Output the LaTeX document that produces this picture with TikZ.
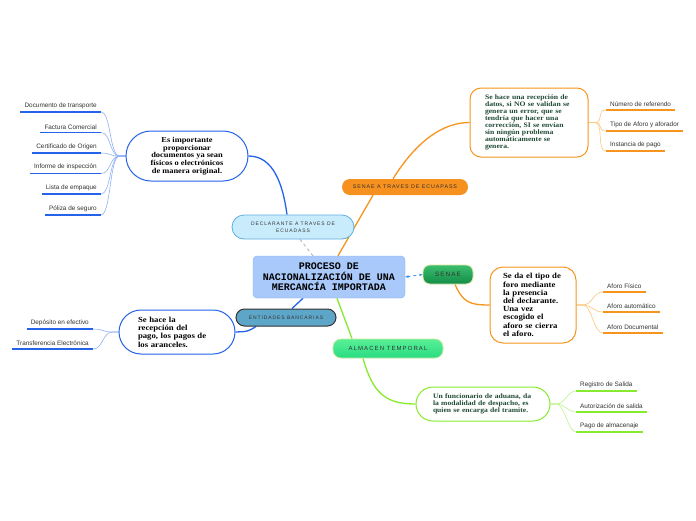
\documentclass[tikz,border=0pt]{standalone}
\usepackage{fontspec}
\setmainfont[FakeStretch=1.12]{Liberation Serif}
\newfontfamily\leaffont{Liberation Sans}
\newfontfamily\tagfont[LetterSpace=18]{Liberation Sans}
\newfontfamily\centralfont{Liberation Mono}
\usetikzlibrary{backgrounds,arrows.meta}
\definecolor{mblue}{HTML}{2563EB}
\definecolor{lblue}{HTML}{8FB2F6}
\definecolor{morange}{HTML}{F7941D}
\definecolor{lorange}{HTML}{F9C77E}
\definecolor{mlime}{HTML}{86EA2E}
\definecolor{llime}{HTML}{BDF48C}
\definecolor{dgreen}{HTML}{1F4A35}
\definecolor{tgray}{HTML}{333333}
\definecolor{cfill}{HTML}{A9C9FB}
\definecolor{cdraw}{HTML}{86B0F2}
\definecolor{dfill}{HTML}{C9ECFD}
\definecolor{ddraw}{HTML}{5EAEE0}
\definecolor{efill}{HTML}{5EA6C8}
\definecolor{ofill}{HTML}{F6901E}
\definecolor{dashgray}{HTML}{9AB4C8}
\definecolor{arrowblue}{HTML}{3A8EE8}
\tikzset{
  central/.style={draw=cdraw, fill=cfill, rounded corners=4pt, minimum width=152pt, minimum height=42pt,
    align=center, font=\centralfont\bfseries\fontsize{10}{10.5}\selectfont, text=black, inner sep=0pt},
  tagnode/.style={rounded corners=#1, inner sep=0pt, align=center, text=tgray},
  bubble/.style={draw=#1, fill=white, line width=1pt, inner sep=0pt},
  leafL/.style={font=\leaffont\fontsize{6.4}{7}\selectfont, text=tgray, inner xsep=4pt, inner ysep=3pt, anchor=south east},
  leafR/.style={font=\leaffont\fontsize{6.4}{7}\selectfont, text=tgray, inner xsep=4pt, inner ysep=3pt, anchor=south west},
  uline/.style={draw=#1, line width=1.4pt},
  twig/.style={draw=#1, line width=0.6pt},
  branch/.style={draw=#1, line width=1.3pt},
}
\begin{document}
\begin{tikzpicture}[x=1pt,y=-1pt]
\useasboundingbox (0,0) rectangle (696,520);

% central
\node[central] (c) at (329,277) {PROCESO DE\\NACIONALIZACIÓN DE UNA\\MERCANCÍA IMPORTADA};

% tag nodes
\node[tagnode=12pt, draw=ddraw, fill=dfill, line width=0.8pt, minimum width=122pt, minimum height=24pt,
  font=\tagfont\fontsize{5}{7}\selectfont] (decl) at (293,227) {DECLARANTE A TRAVES DE\\ECUADASS};
\node[tagnode=8.5pt, draw=tgray, fill=efill, line width=1pt, minimum width=100pt, minimum height=17pt,
  font=\tagfont\fontsize{5}{6}\selectfont] (ent) at (286,317.5) {ENTIDADES BANCARIAS};
\node[tagnode=8pt, fill=ofill, minimum width=126pt, minimum height=16pt,
  font=\tagfont\fontsize{5.3}{6}\selectfont] (ecu) at (405,187) {SENAE A TRAVES DE ECUAPASS};
\node[tagnode=7pt, draw={rgb,255:red,216;green,230;blue,160}, top color={rgb,255:red,60;green,190;blue,110},
  bottom color={rgb,255:red,18;green,140;blue,72}, line width=0.8pt, minimum width=50pt, minimum height=19pt,
  font=\tagfont\fontsize{6.3}{7}\selectfont] (senae) at (448,274.5) {SENAE};
\node[tagnode=8pt, draw={rgb,255:red,200;green,232;blue,160}, top color={rgb,255:red,90;green,240;blue,150},
  bottom color={rgb,255:red,40;green,220;blue,130}, line width=0.8pt, minimum width=110pt, minimum height=19pt,
  font=\tagfont\fontsize{6}{7}\selectfont] (alm) at (388,348.5) {ALMACEN TEMPORAL};

% bubbles
\node[bubble=mblue, rounded corners=25pt, minimum width=122pt, minimum height=50pt, align=center,
  font=\bfseries\fontsize{7.5}{7.7}\selectfont] (es) at (187,156)
  {Es importante\\proporcionar\\documentos ya sean\\físicos o electrónicos\\de manera original.};
\node[bubble=mblue, rounded corners=22pt, minimum width=116pt, minimum height=44pt, align=left, text width=78pt,
  font=\bfseries\fontsize{7.8}{8.3}\selectfont] (pago) at (177,332)
  {Se hace la\\recepción del\\pago, los pagos de\\los aranceles.};
\node[bubble=morange, rounded corners=11pt, minimum width=118pt, minimum height=69pt, align=left, text width=88pt, text=dgreen,
  font=\bfseries\fontsize{6.85}{7.1}\selectfont] (datos) at (529,122.5)
  {Se hace una recepción de\\datos, si NO se validan se\\genera un error, que se\\tendría que hacer una\\corrección, SI se envían\\sin ningún problema\\automáticamente se\\genera.};
\node[bubble=morange, rounded corners=13pt, minimum width=86pt, minimum height=76pt, align=left, text width=60pt,
  font=\bfseries\fontsize{7.8}{8.2}\selectfont] (foro) at (533,305)
  {Se da el tipo de\\foro mediante\\la presencia\\del declarante.\\Una vez\\escogido el\\aforo se cierra\\el aforo.};
\node[bubble=mlime, rounded corners=17pt, minimum width=134pt, minimum height=34pt, align=left, text width=100pt, text=dgreen,
  font=\bfseries\fontsize{6.8}{7.2}\selectfont] (func) at (483,404)
  {Un funcionario de aduana, da\\la modalidad de despacho, es\\quien se encarga del tramite.};

% leaves left (blue)
\node[leafL] (l1) at (101,112) {Documento de transporte};
\node[leafL] (l2) at (101,132.5) {Factura Comercial};
\node[leafL] (l3) at (101,153) {Certificado de Origen};
\node[leafL] (l4) at (101,173.5) {Informe de inspección};
\node[leafL] (l5) at (101,194) {Lista de empaque};
\node[leafL] (l6) at (101,215) {Póliza de seguro};
\node[leafL] (p1) at (93,329) {Depósito en efectivo};
\node[leafL] (p2) at (93,349) {Transferencia Electrónica};
% leaves right (orange)
\node[leafR] (d1) at (606,110) {Número de referendo};
\node[leafR] (d2) at (606,131) {Tipo de Aforo y aforador};
\node[leafR] (d3) at (606,151) {Instancia de pago};
\node[leafR] (f1) at (603,292) {Aforo Físico};
\node[leafR] (f2) at (603,312) {Aforo automático};
\node[leafR] (f3) at (603,333) {Aforo Documental};
% leaves right (lime)
\node[leafR] (u1) at (576,391) {Registro de Salida};
\node[leafR] (u2) at (576,412) {Autorización de salida};
\node[leafR] (u3) at (576,432) {Pago de almacenaje};

\begin{pgfonlayer}{background}
  \fill[white] (0,0) rectangle (696,520);
  % underlines
  \foreach \n in {l1,l2,l3,l4,l5,l6,p1,p2}{\draw[uline=mblue] (\n.south west) -- (\n.south east);}
  \foreach \n in {d1,d2,d3,f1,f2,f3}{\draw[uline=morange] (\n.south west) -- (\n.south east);}
  \foreach \n in {u1,u2,u3}{\draw[uline=mlime] (\n.south west) -- (\n.south east);}
  % twigs
  \foreach \n in {l1,l2,l3,l4,l5,l6}{\draw[twig=lblue] (es.west) -- ++(-6,0) .. controls +(-10,0) and +(10,0) .. (\n.south east);}
  \foreach \n in {p1,p2}{\draw[twig=lblue] (pago.west) -- ++(-6,0) .. controls +(-10,0) and +(10,0) .. (\n.south east);}
  \foreach \n in {d1,d2,d3}{\draw[twig=lorange] (datos.east) -- ++(6,0) .. controls +(10,0) and +(-10,0) .. (\n.south west);}
  \foreach \n in {f1,f2,f3}{\draw[twig=lorange] (foro.east) -- ++(6,0) .. controls +(10,0) and +(-10,0) .. (\n.south west);}
  \foreach \n in {u1,u2,u3}{\draw[twig=llime] (func.east) -- ++(6,0) .. controls +(8,0) and +(-8,0) .. (\n.south west);}
  % branches
  \draw[branch=mblue] (es.east) .. controls +(25,0) and +(-4,-30) .. ([xshift=-6pt]decl.north);
  \draw[dashgray, dashed, line width=0.8pt] ([xshift=-16pt]c.north) -- ([xshift=7pt]decl.south);
  \draw[branch=mblue] ([xshift=-26pt]c.south) -- ([xshift=6pt]ent.north);
  \draw[branch=mblue] ([xshift=-30pt]ent.south) .. controls +(-8,5) .. (pago.east);
  \draw[branch=morange] ([xshift=9pt]c.north) -- ([xshift=-32pt]ecu.south);
  \draw[branch=morange] ([xshift=-12pt]ecu.north) .. controls +(25,-40) and +(-25,0) .. (datos.west);
  \draw[branch=morange] ([xshift=7pt]senae.south) .. controls +(8,18) and +(-20,0) .. (foro.west);
  \draw[arrowblue, dashed, line width=0.8pt, {Stealth[length=3.5pt]}-{Stealth[length=3.5pt]}] (c.east) -- (senae.west);
  \draw[branch=mlime] ([xshift=8pt]c.south) -- ([xshift=-36pt]alm.north);
  \draw[branch=mlime] ([xshift=-25pt]alm.south) .. controls +(10,35) and +(-30,0) .. (func.west);
\end{pgfonlayer}
\end{tikzpicture}
\end{document}
